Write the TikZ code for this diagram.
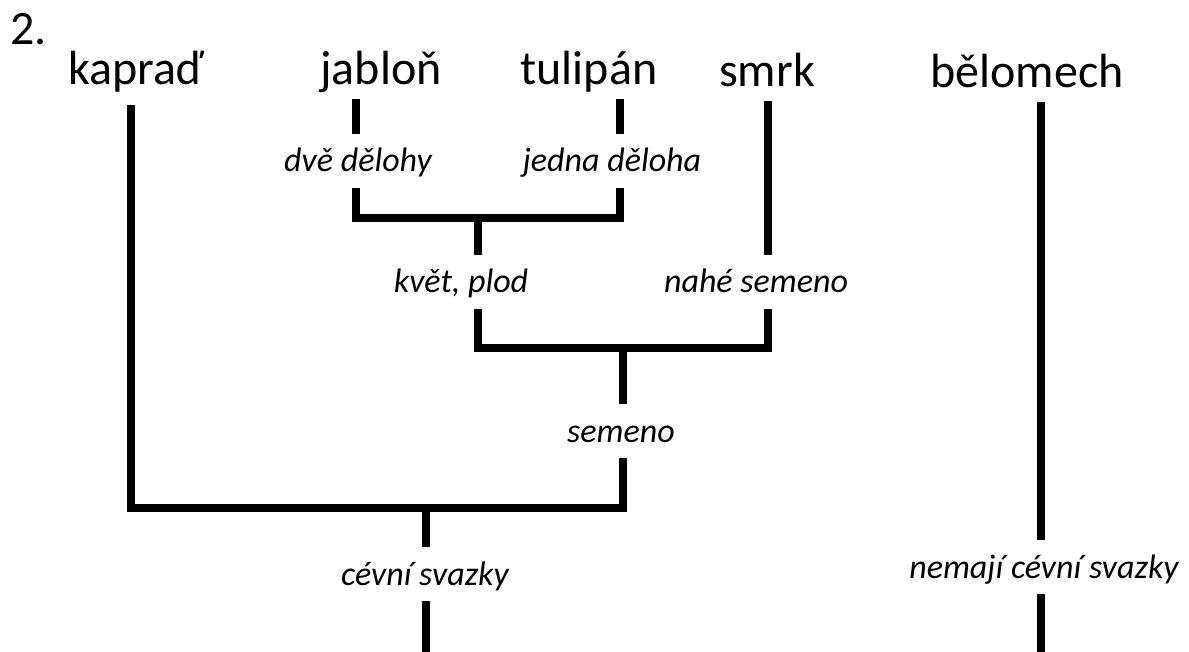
\documentclass[tikz,border=0pt]{standalone}
\usepackage{fontspec}
\setmainfont{Carlito}
\usepackage{tikz}
\usetikzlibrary{positioning, calc}

\begin{document}
\begin{tikzpicture}[x=0.75pt, y=-0.75pt,
  taxon/.style={anchor=base, inner sep=0pt, text depth=10.5pt, font=\fontsize{36}{40}\selectfont},
  trait/.style={anchor=base, inner xsep=2pt, inner ysep=0pt, text height=28.6pt, text depth=11.7pt, font=\fontsize{25.5}{30}\selectfont\itshape},
  branch/.style={line width=5.6pt}]
  \useasboundingbox (0,0) rectangle (1189,652);

  % Task number
  \node[anchor=base west, inner sep=0pt, font=\fontsize{36}{40}\selectfont] (num) at (10,45) {2.};

  % Taxa
  \node[taxon, text depth=15pt] (kapradf) at (136,85) {kapraď};
  \node[taxon] (jablon) at (381,85) {jabloň};
  \node[taxon] (tulipan) at (589,85) {tulipán};
  \node[taxon] (smrk) at (767,87) {smrk};
  \node[taxon] (belomech) at (1027,88) {bělomech};

  % Traits
  \node[trait] (dve) at (358,172) {dvě dělohy};
  \node[trait] (jedna) at (612,172) {jedna děloha};
  \node[trait] (kvet) at (461,293) {květ, plod};
  \node[trait] (nahe) at (756,293) {nahé semeno};
  \node[trait] (semeno) at (621,442) {semeno};
  \node[trait] (cevni) at (425,585) {cévní svazky};
  \node[trait] (nemaji) at (1044,578) {nemají cévní svazky};

  % Joints
  \coordinate (cA) at (356,218);
  \coordinate (cB) at (620,218);
  \coordinate (m1) at (478,218);
  \coordinate (cC) at (478,348);
  \coordinate (cD) at (768,348);
  \coordinate (m2) at (623,348);
  \coordinate (cE) at (131,508);
  \coordinate (cF) at (623,508);
  \coordinate (m3) at (426,508);
  \coordinate (b1) at (426,652);
  \coordinate (b2) at (1041,652);

  % Angiosperms
  \draw[branch] (jablon.south -| cA) -- (dve.north -| cA);
  \draw[branch] (dve.south -| cA) -- (cA) -- (cB) -- (jedna.south -| cB);
  \draw[branch] (jedna.north -| cB) -- (tulipan.south -| cB);

  % Seed plants
  \draw[branch] (m1) -- (kvet.north -| m1);
  \draw[branch] (kvet.south -| m1) -- (cC) -- (cD) -- (nahe.south -| cD);
  \draw[branch] (nahe.north -| cD) -- (smrk.south -| cD);

  % Vascular plants
  \draw[branch] (m2) -- (semeno.north -| m2);
  \draw[branch] (semeno.south -| m2) -- (cF) -- (cE) -- (kapradf.south -| cE);
  \draw[branch] (m3) -- (cevni.north -| m3);
  \draw[branch] (cevni.south -| m3) -- (b1);

  % Moss
  \draw[branch] (belomech.south -| b2) -- (nemaji.north -| b2);
  \draw[branch] (nemaji.south -| b2) -- (b2);
\end{tikzpicture}
\end{document}
